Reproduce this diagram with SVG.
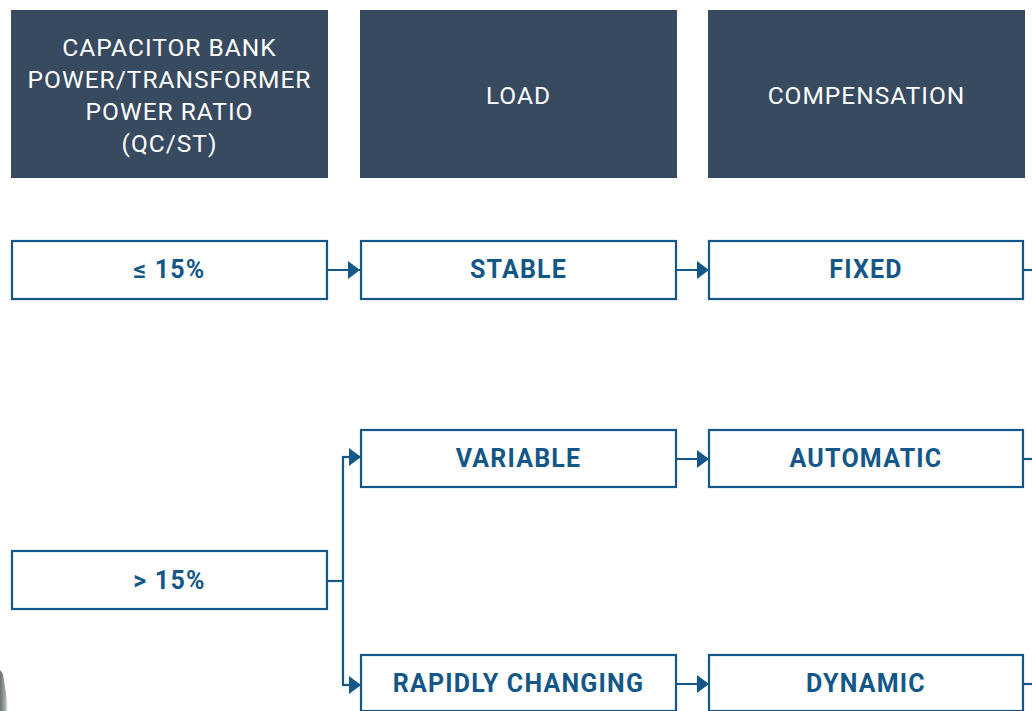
<svg xmlns="http://www.w3.org/2000/svg" width="1032" height="711" viewBox="0 0 1032 711">
  <style>
    .head rect { fill: #374a5f; }
    .head text { fill: #ffffff; font-family: Roboto, "Liberation Sans", sans-serif; font-size: 24.5px; font-weight: 400; text-anchor: middle; letter-spacing: 1px; }
    .node rect { fill: #ffffff; stroke: #135789; stroke-width: 2.2; }
    .node text { fill: #135789; font-family: Roboto, "Liberation Sans", sans-serif; font-size: 25px; font-weight: 700; text-anchor: middle; letter-spacing: 1.2px; }
    .conn path { fill: none; stroke: #135789; stroke-width: 2.2; }
  </style>
  <defs>
    <marker id="arrow" viewBox="0 0 12 18" refX="12" refY="9" markerWidth="12" markerHeight="18" markerUnits="userSpaceOnUse" orient="auto">
      <path d="M0,0 L12,9 L0,18 Z" fill="#135789"/>
    </marker>
    <linearGradient id="shade" x1="0" y1="0" x2="1" y2="0">
      <stop offset="0" stop-color="#50565a"/>
      <stop offset="0.6" stop-color="#9aa0a0"/>
      <stop offset="1" stop-color="#ffffff" stop-opacity="0"/>
    </linearGradient>
  </defs>

  <rect width="1032" height="711" fill="#ffffff"/>

  <!-- dark edge in the lower left corner -->
  <path d="M0,670 L3,674 L9,711 L0,711 Z" fill="url(#shade)" opacity="0.85"/>

  <!-- column headers -->
  <g id="head-ratio" class="head">
    <rect x="11" y="10" width="317" height="168"/>
    <text x="169.5" y="56">CAPACITOR BANK</text>
    <text x="169.5" y="88">POWER/TRANSFORMER</text>
    <text x="169.5" y="120">POWER RATIO</text>
    <text x="169.5" y="152">(QC/ST)</text>
  </g>
  <g id="head-load" class="head">
    <rect x="360" y="10" width="317" height="168"/>
    <text x="518.5" y="104">LOAD</text>
  </g>
  <g id="head-comp" class="head">
    <rect x="708" y="10" width="317" height="168"/>
    <text x="866.5" y="104">COMPENSATION</text>
  </g>

  <!-- connectors -->
  <g id="connectors" class="conn">
    <path d="M327,270 H360" marker-end="url(#arrow)"/>
    <path d="M676,270 H709" marker-end="url(#arrow)"/>
    <path d="M1023,270 H1032"/>
    <path d="M327,581 H343"/>
    <path d="M343,457 V685"/>
    <path d="M342,457 H361" marker-end="url(#arrow)"/>
    <path d="M342,685 H361" marker-end="url(#arrow)"/>
    <path d="M676,459 H709" marker-end="url(#arrow)"/>
    <path d="M1023,459 H1032"/>
    <path d="M676,684 H709" marker-end="url(#arrow)"/>
    <path d="M1023,684 H1032"/>
  </g>

  <!-- first row -->
  <g id="ratio-low" class="node">
    <rect x="12" y="241" width="315" height="58"/>
    <text x="169.5" y="278">≤ 15%</text>
  </g>
  <g id="load-stable" class="node">
    <rect x="361" y="241" width="315" height="58"/>
    <text x="518.5" y="278">STABLE</text>
  </g>
  <g id="comp-fixed" class="node">
    <rect x="709" y="241" width="314" height="58"/>
    <text x="866" y="278">FIXED</text>
  </g>

  <!-- second row -->
  <g id="load-variable" class="node">
    <rect x="361" y="430" width="315" height="57"/>
    <text x="518.5" y="467">VARIABLE</text>
  </g>
  <g id="comp-automatic" class="node">
    <rect x="709" y="430" width="314" height="57"/>
    <text x="866" y="467">AUTOMATIC</text>
  </g>
  <g id="ratio-high" class="node">
    <rect x="12" y="551" width="315" height="58"/>
    <text x="169.5" y="589">&gt; 15%</text>
  </g>
  <g id="load-rapid" class="node">
    <rect x="361" y="655" width="315" height="56"/>
    <text x="518.5" y="692">RAPIDLY CHANGING</text>
  </g>
  <g id="comp-dynamic" class="node">
    <rect x="709" y="655" width="314" height="56"/>
    <text x="866" y="692">DYNAMIC</text>
  </g>
</svg>
